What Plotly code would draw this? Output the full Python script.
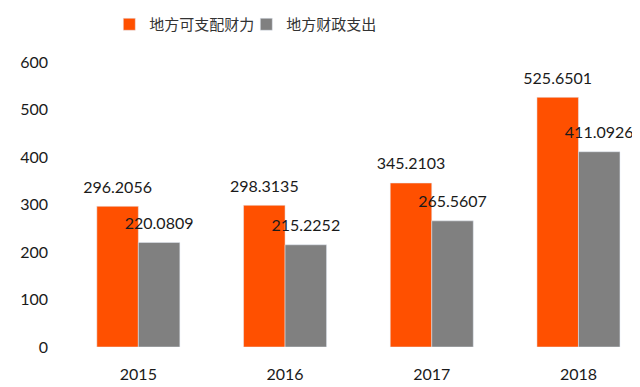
import plotly.graph_objects as go

years = ["2015", "2016", "2017", "2018"]
disposable = [296.2056, 298.3135, 345.2103, 525.6501]
expenditure = [220.0809, 215.2252, 265.5607, 411.0926]
names = ["地方可支配财力", "地方财政支出"]
colors = ["#FF5000", "#808080"]
y_ticks = [0, 100, 200, 300, 400, 500, 600]

num_font = dict(family="Lato, 'Open Sans', sans-serif", size=16, color="#1a1a1a")

fig = go.Figure()
for i, (vals, name) in enumerate([(disposable, names[0]), (expenditure, names[1])]):
    fig.add_trace(go.Bar(
        x=years, y=vals, name=name, marker_color=colors[i],
        offsetgroup=str(i), hoverinfo="skip",
    ))
for i, vals in enumerate([disposable, expenditure]):
    fig.add_trace(go.Scatter(
        x=years, y=vals, mode="markers+text", offsetgroup=str(i),
        marker=dict(size=14, opacity=0, color=colors[i]),
        text=[f"{v:.4f}" for v in vals], textposition="top center",
        textfont=num_font, cliponaxis=False, showlegend=False, hoverinfo="skip",
    ))

fig.update_layout(
    width=640, height=387,
    margin=dict(l=57, r=0, t=54, b=48, autoexpand=False),
    paper_bgcolor="white", plot_bgcolor="white",
    barmode="group", bargap=0.434, bargroupgap=0,
    scattermode="group", scattergap=0.434,
    showlegend=True,
    legend=dict(
        orientation="h", x=0.076, xanchor="left", y=1.0, yanchor="top",
        yref="container", font=dict(family="'Noto Sans CJK SC', sans-serif", size=15, color="#333"),
        itemwidth=30, entrywidth=92, tracegroupgap=0, bgcolor="rgba(0,0,0,0)",
    ),
)
fig.update_xaxes(
    type="category", range=[-0.5, 3.474], showline=False, showgrid=False,
    ticks="", tickfont=num_font, ticklabelstandoff=16,
)
fig.update_yaxes(
    range=[0, 600], tickvals=y_ticks, showline=False, showgrid=False,
    zeroline=False, ticks="", tickfont=num_font, ticklabelstandoff=16,
)

fig.write_html("out.html")
